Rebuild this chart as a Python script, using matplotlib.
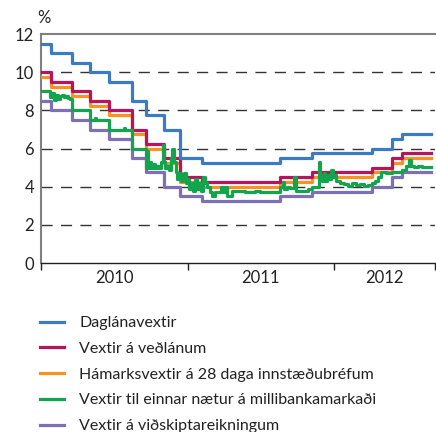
import matplotlib
matplotlib.use('Agg')
import matplotlib.pyplot as plt
import numpy as np

plt.rcParams['font.family'] = ['Lato', 'DejaVu Sans']

# step dates for the policy rates (same dates for all four)
step_dates = ['2010-01-01', '2010-01-26', '2010-03-18', '2010-05-03', '2010-06-20',
              '2010-08-15', '2010-09-20', '2010-11-04', '2010-12-12', '2011-02-05',
              '2011-08-19', '2011-11-07', '2012-04-04', '2012-05-24', '2012-06-18']
end_date = '2012-08-29'

daglan = [11.5, 11.0, 10.5, 10.0, 9.5, 8.5, 7.75, 7.0, 5.5, 5.25, 5.5, 5.75, 6.0, 6.5, 6.75]
vedlan = [10.0, 9.5, 9.0, 8.5, 8.0, 7.0, 6.25, 5.5, 4.5, 4.25, 4.5, 4.75, 5.0, 5.5, 5.75]
hamark = [9.75, 9.25, 8.75, 8.25, 7.75, 6.75, 6.0, 5.25, 4.25, 4.0, 4.25, 4.5, 4.75, 5.25, 5.5]
vidsk = [8.5, 8.0, 7.5, 7.0, 6.5, 5.5, 4.75, 4.0, 3.5, 3.25, 3.5, 3.75, 4.0, 4.5, 4.75]

# overnight interbank rate
green_dates = ['2010-01-01', '2010-01-23', '2010-01-28', '2010-02-02', '2010-02-07', '2010-02-12',
               '2010-02-17', '2010-02-22', '2010-02-27', '2010-03-04', '2010-03-09', '2010-03-14',
               '2010-03-18', '2010-05-03', '2010-05-15', '2010-05-18', '2010-06-20', '2010-07-26',
               '2010-07-29', '2010-08-15', '2010-09-20', '2010-09-23', '2010-09-25', '2010-09-29',
               '2010-10-02', '2010-10-07', '2010-10-12', '2010-10-17', '2010-10-22', '2010-10-27',
               '2010-10-31', '2010-11-02', '2010-11-05', '2010-11-10', '2010-11-15', '2010-11-20',
               '2010-11-24', '2010-11-28', '2010-12-02', '2010-12-05', '2010-12-10', '2010-12-15',
               '2010-12-20', '2010-12-23', '2010-12-27', '2010-12-30', '2011-01-04', '2011-01-09',
               '2011-01-14', '2011-01-19', '2011-01-24', '2011-01-29', '2011-02-03', '2011-02-08',
               '2011-02-13', '2011-02-18', '2011-02-26', '2011-03-03', '2011-03-10', '2011-03-20',
               '2011-03-25', '2011-03-30', '2011-04-04', '2011-04-09', '2011-04-21', '2011-05-24',
               '2011-06-18', '2011-06-30', '2011-08-19', '2011-08-26', '2011-08-29', '2011-09-05',
               '2011-09-13', '2011-09-23', '2011-09-27', '2011-10-28', '2011-11-07', '2011-11-23',
               '2011-11-27', '2011-12-02', '2011-12-07', '2011-12-10', '2011-12-14', '2011-12-19',
               '2011-12-24', '2011-12-28', '2012-01-01', '2012-01-06', '2012-01-16', '2012-01-26',
               '2012-02-05', '2012-02-15', '2012-02-25', '2012-03-06', '2012-03-16', '2012-03-26',
               '2012-04-04', '2012-04-12', '2012-04-19', '2012-04-27', '2012-05-09', '2012-05-24',
               '2012-06-08', '2012-06-18', '2012-06-28', '2012-07-04', '2012-07-10', '2012-07-18',
               '2012-07-28', '2012-08-07', '2012-08-29']
green_vals = [9.0, 8.7, 8.9, 8.55, 8.8, 8.6,
              8.75, 8.8, 8.7, 8.75, 8.65, 8.6,
              8.0, 7.5, 7.6, 7.5, 7.0, 7.1,
              7.0, 6.0, 5.0, 5.9, 5.0, 5.3,
              5.0, 5.2, 5.0, 5.1, 5.0, 5.3,
              6.2, 5.3, 5.0, 5.1, 4.9, 5.5,
              6.0, 5.3, 4.8, 4.4, 4.7, 4.3,
              4.5, 4.7, 4.2, 4.4, 3.9, 4.2,
              3.8, 4.4, 3.9, 4.2, 3.8, 4.5,
              4.2, 4.0, 3.7, 3.5, 3.75, 3.7,
              4.0, 3.75, 4.0, 3.5, 3.8, 3.75,
              3.8, 3.75, 4.0, 4.25, 3.9, 4.0,
              3.95, 4.5, 3.8, 3.9, 4.0, 5.3,
              4.6, 4.3, 4.7, 4.3, 4.6, 4.4,
              4.9, 4.5, 4.6, 4.3, 4.2, 4.15,
              4.05, 4.2, 4.1, 4.15, 4.05, 4.1,
              4.2, 4.3, 4.5, 4.75, 4.7, 4.75,
              4.8, 4.9, 5.1, 5.4, 5.1, 5.05,
              5.1, 5.05, 5.05]

labels = ['Daglánavextir', 'Vextir á veðlánum', 'Hámarksvextir á 28 daga innstæðubréfum',
          'Vextir til einnar nætur á millibankamarkaði', 'Vextir á viðskiptareikningum']
colors = ['#3a7bc4', '#b8145c', '#f7931e', '#12a54e', '#7d70b6']

year_ticks = ['2010-01-01', '2011-01-01', '2012-01-01', '2012-09-08']
year_label_pos = ['2010-07-02', '2011-07-02', '2012-05-05']
year_labels = ['2010', '2011', '2012']

sd = np.array(step_dates + [end_date], dtype='datetime64[D]')

fig = plt.figure(figsize=(4.36, 4.32), dpi=100)
ax = fig.add_axes([0.094, 0.391, 0.904, 0.530])

lw = 2.3
ax.step(sd, vidsk + [vidsk[-1]], where='post', color=colors[4], lw=lw, zorder=3)
ax.step(sd, hamark + [hamark[-1]], where='post', color=colors[2], lw=lw, zorder=3)
ax.step(sd, vedlan + [vedlan[-1]], where='post', color=colors[1], lw=lw, zorder=3)
ax.step(np.array(green_dates, dtype='datetime64[D]'), green_vals, where='post',
        color=colors[3], lw=lw, zorder=4)
ax.step(sd, daglan + [daglan[-1]], where='post', color=colors[0], lw=lw, zorder=5)

ax.set_ylim(0, 12)
ax.set_xlim(np.datetime64('2010-01-01'), np.datetime64('2012-09-08'))
ax.set_yticks([0, 2, 4, 6, 8, 10, 12])
ax.tick_params(axis='y', length=0, pad=5, labelsize=12, colors='#222222')

ax.set_xticks(np.array(year_ticks, dtype='datetime64[D]'))
ax.set_xticklabels([])
ax.set_xticks(np.array(year_label_pos, dtype='datetime64[D]'), minor=True)
ax.set_xticklabels(year_labels, minor=True)
ax.tick_params(axis='x', which='major', length=5, width=1, color='#222222', direction='out')
ax.tick_params(axis='x', which='minor', length=0, pad=5, labelsize=12, labelcolor='#222222')

for y in [2, 4, 6, 8, 10]:
    ax.axhline(y, color='#333333', lw=1.0, dashes=(8, 6), zorder=1)

ax.spines['right'].set_visible(False)
ax.spines['top'].set_color('#808080')
ax.spines['top'].set_linewidth(1.5)
ax.spines['left'].set_color('#808080')
ax.spines['left'].set_linewidth(1.5)
ax.spines['bottom'].set_color('#222222')
ax.spines['bottom'].set_linewidth(1.0)

fig.text(0.101, 0.958, '%', fontsize=12, color='#222222', ha='center', va='center')

handles = [plt.Line2D([], [], color=c, lw=2.3) for c in colors]
fig.legend(handles, labels, loc='upper left', bbox_to_anchor=(0.092, 0.268),
           frameon=False, fontsize=11.5, handlelength=1.5, handletextpad=0.95,
           labelspacing=0.72, borderaxespad=0, borderpad=0, labelcolor='#222222')

fig.savefig('out.png', dpi=100)
